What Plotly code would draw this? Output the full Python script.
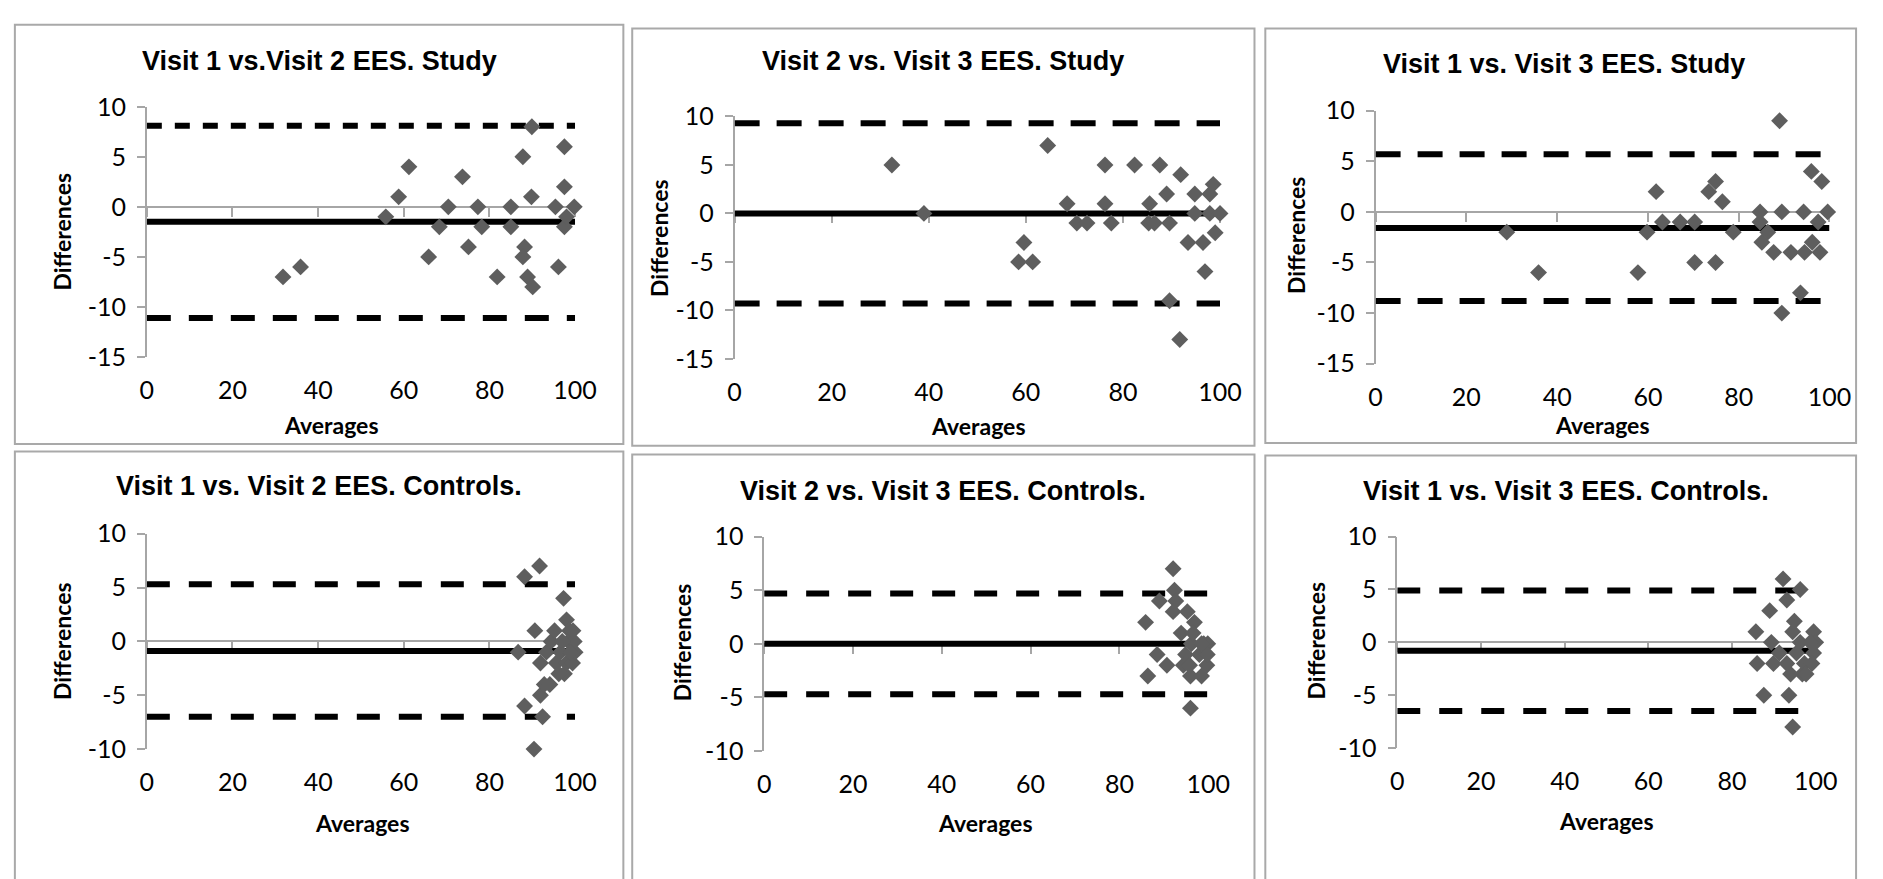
import plotly.graph_objects as go

W, H = 1883, 879

titles = [
    "Visit 1 vs.Visit 2 EES. Study",
    "Visit 2 vs. Visit 3 EES. Study",
    "Visit 1 vs. Visit 3 EES. Study",
    "Visit 1 vs. Visit 2 EES. Controls.",
    "Visit 2 vs. Visit 3 EES. Controls.",
    "Visit 1 vs. Visit 3 EES. Controls.",
]
x_label = "Averages"
y_label = "Differences"

# Panel 1: Visit 1 vs Visit 2, Study
avg_1 = [31.8, 35.9, 55.8, 58.8, 61.2, 65.8, 68.3, 70.4, 73.7, 75.1, 77.3, 78.2, 81.8, 85.0, 85.0,
         87.8, 88.2, 87.8, 88.9, 90.1, 89.9, 89.8, 95.4, 97.5, 97.5, 97.5, 96.1, 98.0, 99.8]
diff_1 = [-7, -6, -1, 1, 4, -5, -2, 0, 3, -4, 0, -2, -7, 0, -2,
          5, -4, -5, -7, -8, 8, 1, 0, 6, 2, -2, -6, -1, 0]
# Panel 2: Visit 2 vs Visit 3, Study
avg_2 = [32.4, 39.0, 58.5, 59.6, 61.4, 64.5, 68.5, 70.5, 72.6, 76.3, 76.3, 77.6, 82.4, 85.5, 85.3,
         86.5, 87.6, 89.0, 89.6, 89.6, 91.7, 91.9, 93.4, 94.8, 94.8, 96.5, 96.9, 97.9, 98.6, 97.9,
         99.0, 100.0]
diff_2 = [5, 0, -5, -3, -5, 7, 1, -1, -1, 5, 1, -1, 5, 1, -1,
          -1, 5, 2, -1, -9, -13, 4, -3, 2, 0, -3, -6, 2, 3, 0,
          -2, 0]
# Panel 3: Visit 1 vs Visit 3, Study
avg_3 = [28.9, 35.9, 57.8, 59.8, 61.8, 63.2, 67.1, 70.3, 70.3, 73.4, 74.9, 74.9, 76.4, 78.8, 84.7,
         84.7, 85.1, 86.4, 87.7, 89.0, 89.5, 89.5, 91.5, 93.6, 94.3, 94.5, 96.0, 96.2, 97.5, 97.9,
         98.3, 99.6]
diff_3 = [-2, -6, -6, -2, 2, -1, -1, -1, -5, 2, 3, -5, 1, -2, 0,
          -1, -3, -2, -4, 9, 0, -10, -4, -8, 0, -4, 4, -3, -1, -4,
          3, 0]
# Panel 4: Visit 1 vs Visit 2, Controls
avg_4 = [86.7, 88.2, 88.2, 90.4, 90.6, 91.7, 91.9, 92.4, 91.9, 92.8, 94.1, 93.3, 94.4, 95.2, 95.6,
         96.6, 97.3, 97.5, 98.0, 98.0, 98.4, 98.7, 99.4, 100.0, 99.8, 99.5, 97.0, 96.2, 98.9]
diff_4 = [-1, 6, -6, -10, 1, 7, -2, -7, -5, -4, -4, -1, 0, 1, -2,
          -1, 4, -3, 2, -2, 0, 1, -2, -1, 0, 1, 0, -3, -1]
# Panel 5: Visit 2 vs Visit 3, Controls
avg_5 = [85.9, 86.4, 88.5, 89.0, 90.7, 92.1, 92.4, 92.7, 92.1, 93.9, 95.3, 96.9, 94.9, 94.4, 96.0,
         96.0, 96.2, 98.0, 98.5, 99.7, 99.9, 99.8, 99.0, 96.6, 95.8, 98.5]
diff_5 = [2, -3, -1, 4, -2, 7, 5, 4, 3, 1, 3, 2, -1, -2, -3,
          -6, 0, -1, -3, -2, 0, -1, 0, 1, -2, 0]
# Panel 6: Visit 1 vs Visit 3, Controls
avg_6 = [85.7, 86.0, 87.6, 89.0, 89.4, 89.9, 91.3, 92.2, 93.1, 93.6, 94.0, 94.5, 94.9, 94.5, 95.4,
         96.3, 96.3, 96.8, 97.3, 99.5, 100.0, 99.5, 99.1, 97.7, 98.7, 93.1]
diff_6 = [1, -2, -5, 3, 0, -2, -1, 6, 4, -5, -3, -8, 2, 1, -1,
          5, 0, -3, -2, 1, 0, -1, -2, -3, 0, -2]

averages = [avg_1, avg_2, avg_3, avg_4, avg_5, avg_6]
differences = [diff_1, diff_2, diff_3, diff_4, diff_5, diff_6]

bias = [-1.5, 0.0, -1.6, -0.9, 0.0, -0.8]
upper_loa = [8.1, 9.3, 5.7, 5.3, 4.7, 4.9]
lower_loa = [-11.1, -9.3, -8.8, -7.0, -4.7, -6.5]

x_ticks = [0, 20, 40, 60, 80, 100]
y_ticks_study = [-15, -10, -5, 0, 5, 10]
y_ticks_ctrl = [-10, -5, 0, 5, 10]
y_ticks = [y_ticks_study] * 3 + [y_ticks_ctrl] * 3

# ---------- layout geometry (pixels) ----------
plot_boxes = [  # left, right, top, bottom
    (142, 577, 94, 353), (739, 1232, 104, 355), (1390, 1851, 98, 360),
    (142, 577, 536, 759), (769, 1220, 539, 761), (1412, 1837, 539, 758),
]
frames = [
    (8, 626, 9, 443), (635, 1267, 13, 445), (1278, 1878, 13, 442),
    (8, 626, 451, 905), (635, 1267, 454, 905), (1278, 1878, 455, 905),
]
title_pos = [(317, 47), (951, 47), (1581, 50), (317, 487), (951, 492), (1583, 492)]
xlab_pos = [(330, 423), (987, 425), (1620, 423), (361, 835), (994, 835), (1625, 833)]
ylab_pos = [(56, 223), (662, 230), (1309, 227), (56, 647), (685, 648), (1329, 647)]
dash_upper = ["15px,13px", "25px,17px", "25px,17px", "23px,19px", "23px,19px", "23px,19px"]
dash_lower = ["24px,18px", "25px,17px", "25px,17px", "23px,19px", "23px,19px", "23px,19px"]

def px_x(v):
    return v / W

def px_y(v):
    return 1 - v / H

AXIS_GRAY = "#a6a6a6"
MARKER = "#5e5e5e"
TITLE_FONT = "Liberation Sans, Arial, sans-serif"
LABEL_FONT = "Lato, Liberation Sans, sans-serif"

fig = go.Figure()
layout = dict(
    width=W, height=H, margin=dict(l=0, r=0, t=0, b=0),
    paper_bgcolor="white", plot_bgcolor="white", showlegend=False,
    font=dict(family=LABEL_FONT, color="black"),
    shapes=[], annotations=[],
)

for i in range(6):
    l, r, t, b = plot_boxes[i]
    xd = [px_x(l), px_x(r)]
    yd = [px_y(b), px_y(t)]
    yr = [y_ticks[i][0], y_ticks[i][-1]]
    xr = [x_ticks[0], x_ticks[-1]]
    xa = f"xaxis{2*i+1}" if i > 0 else "xaxis"
    xo = f"xaxis{2*i+2}"
    ya = f"yaxis{i+1}" if i > 0 else "yaxis"
    xa_id = "x" if i == 0 else f"x{2*i+1}"
    xo_id = f"x{2*i+2}"
    ya_id = "y" if i == 0 else f"y{i+1}"

    # base x axis: labels only (at bottom)
    layout[xa] = dict(domain=xd, range=xr, anchor=ya_id, tickvals=x_ticks,
                      ticktext=[str(v) for v in x_ticks],
                      showline=False, showgrid=False, zeroline=False, ticks="",
                      tickfont=dict(size=25, family=LABEL_FONT, color="black"),
                      ticklabelstandoff=16)
    # tick marks of the horizontal axis crossing at zero
    zero_pos = yd[0] + (0 - yr[0]) / (yr[1] - yr[0]) * (yd[1] - yd[0])
    layout[xo] = dict(domain=xd, range=xr, overlaying=xa_id, anchor="free", position=zero_pos,
                      side="bottom", tickvals=x_ticks, showticklabels=False,
                      showline=False, ticks="outside", ticklen=9, tickcolor=AXIS_GRAY,
                      tickwidth=1.5, showgrid=False, zeroline=False, layer="below traces")
    layout[ya] = dict(domain=yd, range=yr, anchor=xa_id, tickvals=y_ticks[i],
                      ticktext=[str(v) for v in y_ticks[i]],
                      showline=True, linecolor=AXIS_GRAY, linewidth=1.5,
                      ticks="outside", ticklen=8, tickcolor=AXIS_GRAY, tickwidth=1.5,
                      showgrid=False, zeroline=True, zerolinecolor=AXIS_GRAY, zerolinewidth=1.5,
                      layer="below traces",
                      tickfont=dict(size=25, family=LABEL_FONT, color="black"),
                      ticklabelstandoff=6)

    # invisible trace so the zero-axis overlay is drawn
    fig.add_trace(go.Scatter(x=[], y=[], mode="markers", xaxis=xo_id, yaxis=ya_id,
                             hoverinfo="skip"))
    # limits of agreement and bias
    fig.add_trace(go.Scatter(x=xr, y=[upper_loa[i]] * 2, mode="lines",
                             line=dict(color="black", width=6, dash=dash_upper[i]),
                             xaxis=xa_id, yaxis=ya_id, hoverinfo="skip"))
    fig.add_trace(go.Scatter(x=xr, y=[lower_loa[i]] * 2, mode="lines",
                             line=dict(color="black", width=6, dash=dash_lower[i]),
                             xaxis=xa_id, yaxis=ya_id, hoverinfo="skip"))
    fig.add_trace(go.Scatter(x=xr, y=[bias[i]] * 2, mode="lines",
                             line=dict(color="black", width=6),
                             xaxis=xa_id, yaxis=ya_id, hoverinfo="skip"))
    fig.add_trace(go.Scatter(x=averages[i], y=differences[i], mode="markers",
                             marker=dict(symbol="diamond", size=13, color=MARKER,
                                         line=dict(width=0)),
                             cliponaxis=False, xaxis=xa_id, yaxis=ya_id))

    fl, fr, ft, fb = frames[i]
    layout["shapes"].append(dict(type="rect", xref="paper", yref="paper",
                                 x0=px_x(fl), x1=px_x(fr), y0=px_y(fb), y1=px_y(ft),
                                 line=dict(color="#a9a9a9", width=2), layer="below"))
    tx, ty = title_pos[i]
    layout["annotations"].append(dict(text=f"<b>{titles[i]}</b>", xref="paper", yref="paper",
                                      x=px_x(tx), y=px_y(ty), xanchor="center", yanchor="middle",
                                      showarrow=False,
                                      font=dict(size=27, family=TITLE_FONT, color="black")))
    ax_, ay_ = xlab_pos[i]
    layout["annotations"].append(dict(text=f"<b>{x_label}</b>", xref="paper", yref="paper",
                                      x=px_x(ax_), y=px_y(ay_), xanchor="center", yanchor="middle",
                                      showarrow=False,
                                      font=dict(size=23, family=LABEL_FONT, color="black")))
    lx, ly = ylab_pos[i]
    layout["annotations"].append(dict(text=f"<b>{y_label}</b>", xref="paper", yref="paper",
                                      x=px_x(lx), y=px_y(ly), xanchor="center", yanchor="middle",
                                      textangle=-90, showarrow=False,
                                      font=dict(size=23, family=LABEL_FONT, color="black")))

fig.update_layout(**layout)
fig.write_html("out.html")
